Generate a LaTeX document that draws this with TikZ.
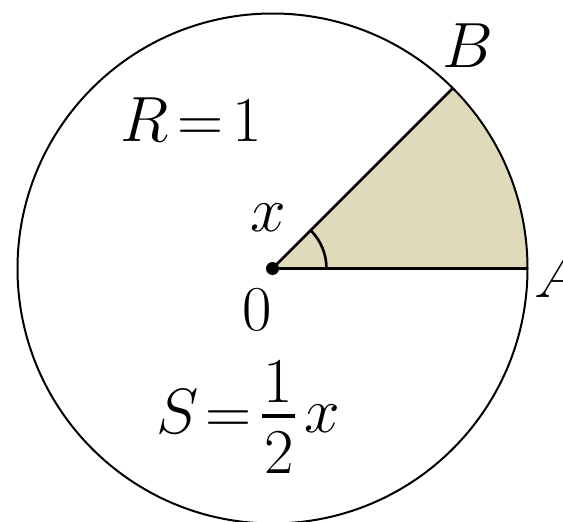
\documentclass[tikz,border=0pt]{standalone}
\usepackage{graphicx}
\definecolor{sectorfill}{RGB}{223,218,186}
\newcommand{\biglbl}[1]{\scalebox{2.57}{\Huge\thickmuskip=2.5mu #1}}
\begin{document}
\begin{tikzpicture}[x=1pt,y=-1pt,
  lbl/.style={inner sep=0pt,anchor=base}]
\useasboundingbox (0,0) rectangle (563,522);
\coordinate (O) at (272.5,268.5);
\coordinate (A) at (527.5,268.5);
\coordinate (B) at (452.8,88.2);
\fill[sectorfill] (O) -- (A) arc[start angle=0,end angle=45,radius=255pt] -- cycle;
\draw[line width=2pt] (O) circle[radius=255pt];
\draw[line width=2.8pt] (O) -- (A);
\draw[line width=2.6pt] (O) -- (B);
\draw[line width=2.6pt] ([xshift=54pt]O) arc[start angle=0,end angle=45,radius=54pt];
\fill (O) circle[radius=6.5pt];
\node[lbl] (lR) at (191,141) {\biglbl{$R=1$}};
\node[lbl] (lx) at (268,231) {\biglbl{$x$}};
\node[lbl] (lB) at (468,67) {\biglbl{$B$}};
\node[lbl] (lA) at (558,297) {\biglbl{$A$}};
\node[lbl] (l0) at (257,330) {\biglbl{$0$}};
% S = 1/2 x
\node[lbl] (lS) at (178,433) {\biglbl{$S$}};
\node[lbl] (leq) at (229,433) {\biglbl{$=$}};
\node[lbl] (lnum) at (278,402) {\biglbl{$1$}};
\node[lbl] (lden) at (279,473) {\biglbl{$2$}};
\node[lbl] (lxx) at (322,432) {\biglbl{$x$}};
\draw[line width=3.5pt] (262,416) -- (295,416);
\end{tikzpicture}
\end{document}
